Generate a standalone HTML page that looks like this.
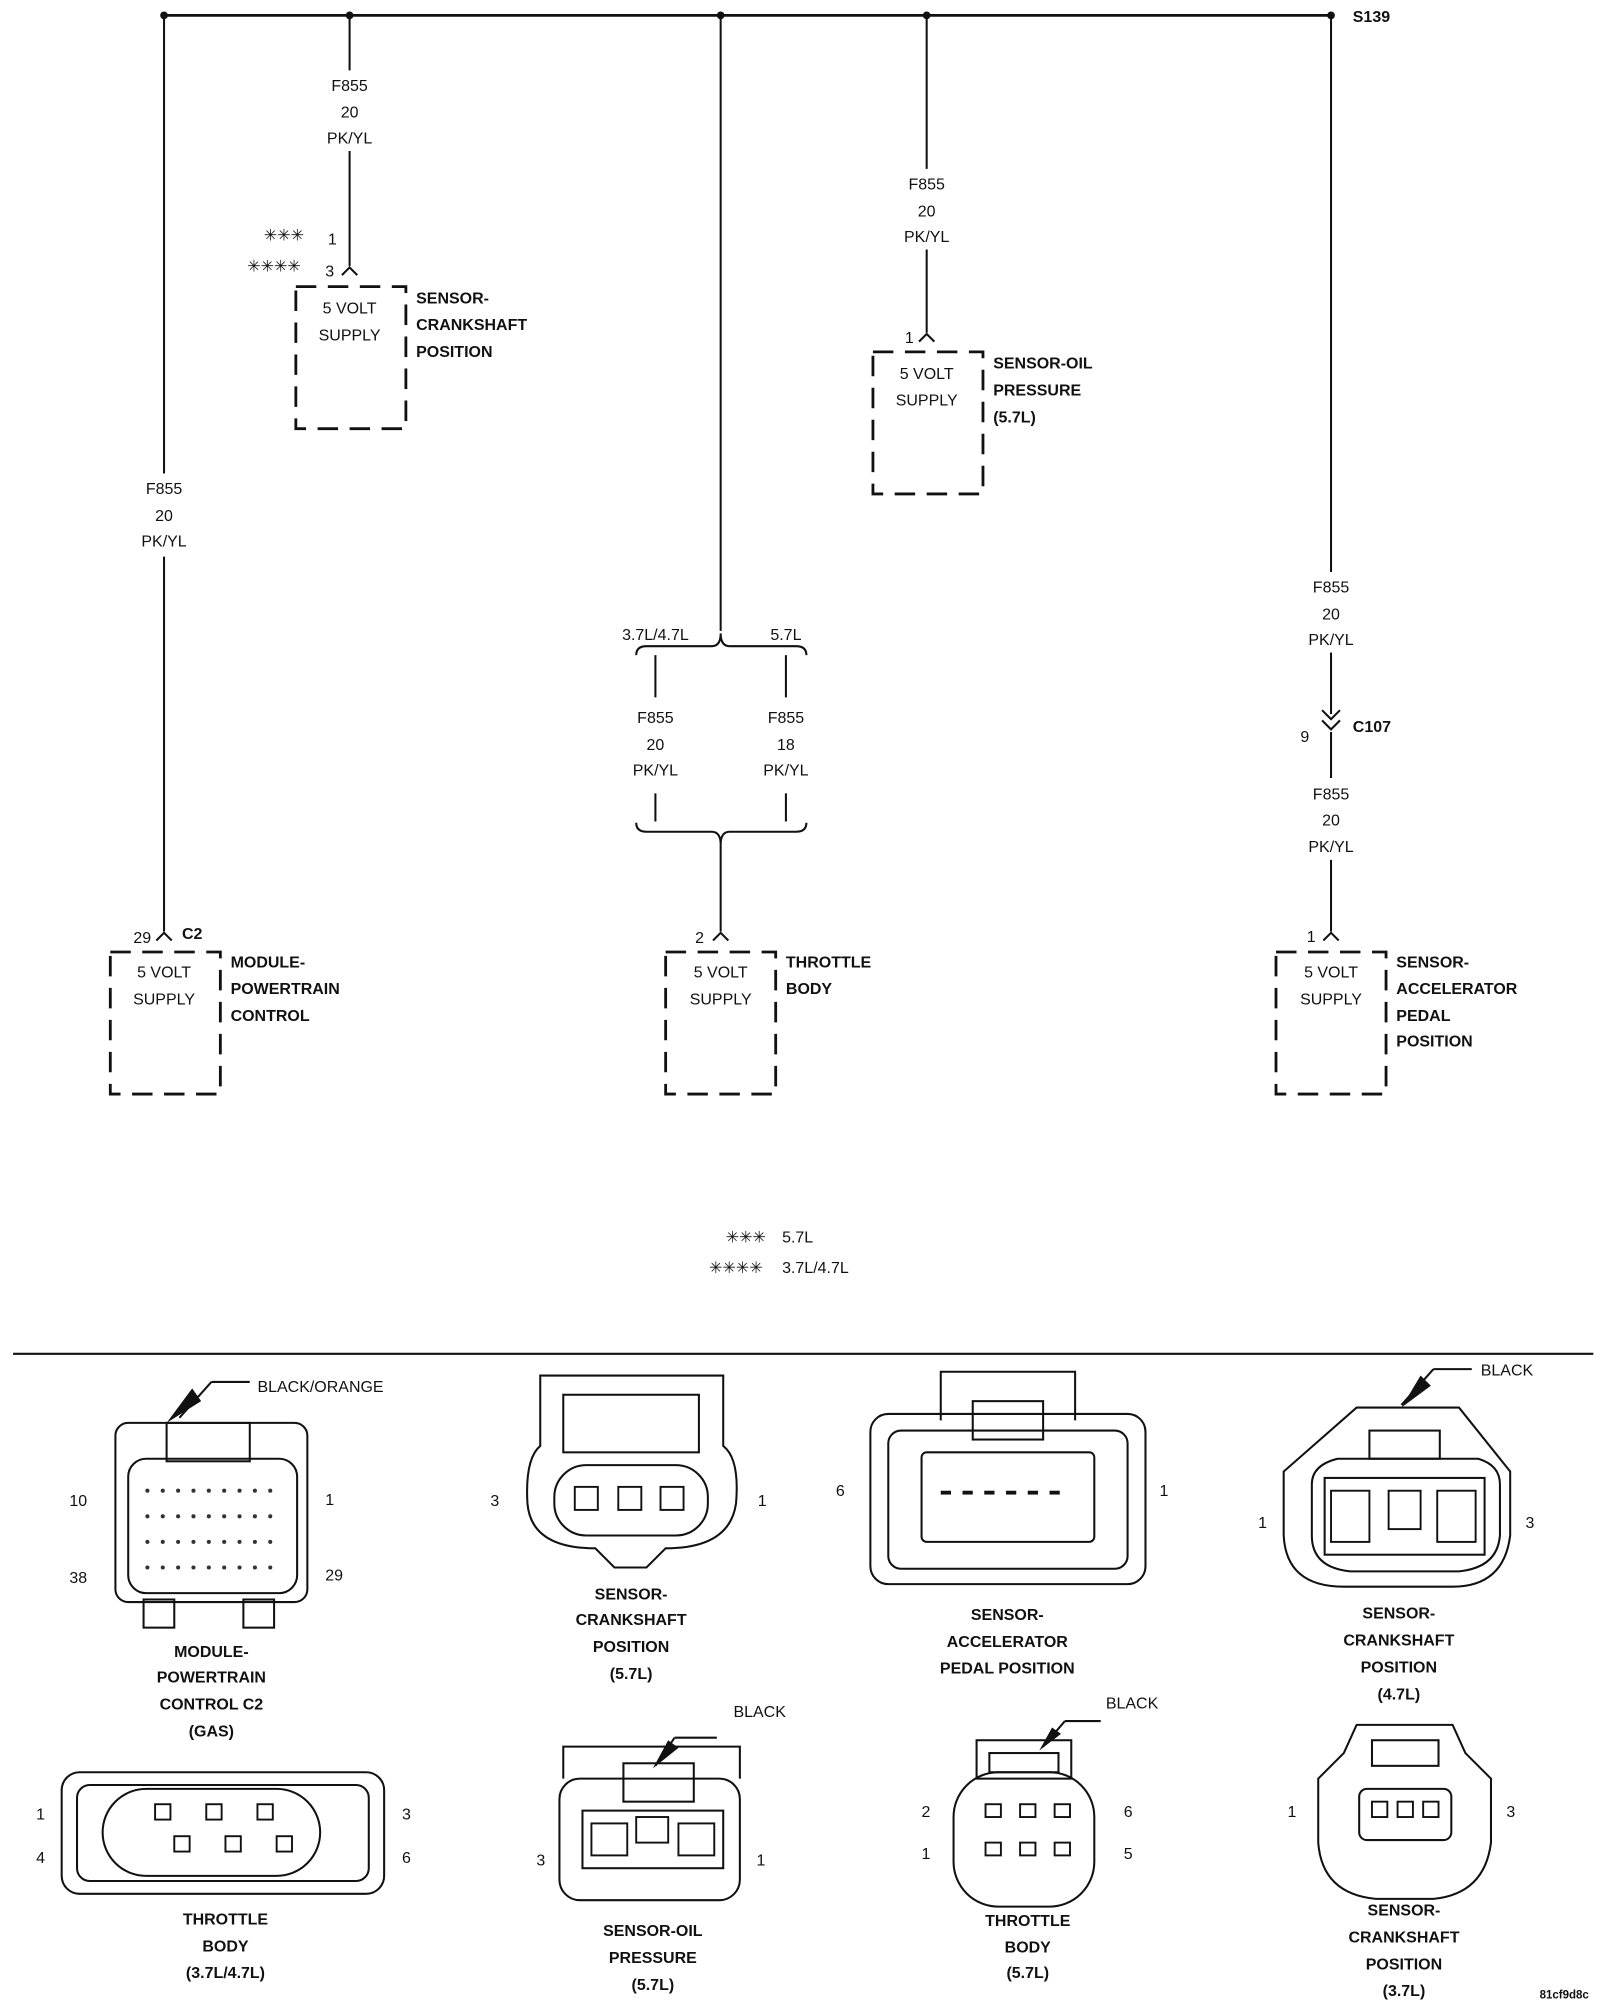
<!DOCTYPE html>
<html><head><meta charset="utf-8"><style>
html,body{margin:0;padding:0;background:#fff;}
svg{display:block;}
text{font-family:"Liberation Sans",sans-serif;font-size:12.5px;fill:#111;}
.b{font-weight:bold;}
.c{text-anchor:middle;}
</style></head><body>
<svg width="1600" height="2000" viewBox="0 0 1250 1563" xmlns="http://www.w3.org/2000/svg">
<g stroke="#111" stroke-width="1.6" fill="none">
<line x1="128" y1="12" x2="1040" y2="12" stroke-width="2.2"/>
<line x1="128" y1="12" x2="128" y2="370"/><line x1="128" y1="435" x2="128" y2="728"/>
<line x1="273" y1="12" x2="273" y2="55"/><line x1="273" y1="118" x2="273" y2="208"/>
<line x1="563" y1="12" x2="563" y2="493"/>
<line x1="724" y1="12" x2="724" y2="132"/><line x1="724" y1="195" x2="724" y2="260"/>
<line x1="1040" y1="12" x2="1040" y2="447"/><line x1="1040" y1="510" x2="1040" y2="558"/>
<line x1="1040" y1="572" x2="1040" y2="608"/><line x1="1040" y1="672" x2="1040" y2="728"/>
<path d="M122 735 L128 729 L134 735"/>
<path d="M267 215 L273 209 L279 215"/>
<path d="M718 267 L724 261 L730 267"/>
<path d="M557 735 L563 729 L569 735"/>
<path d="M1034 735 L1040 729 L1046 735"/>
<path d="M1033 555 L1040 562 L1047 555"/><path d="M1033 563 L1040 570 L1047 563"/>
<path d="M497 512 Q497 505 505 505 L556 505 Q563 505 563 495 Q563 505 570 505 L622 505 Q630 505 630 512"/>
<line x1="512" y1="512" x2="512" y2="545"/><line x1="614" y1="512" x2="614" y2="545"/>
<line x1="512" y1="620" x2="512" y2="642"/><line x1="614" y1="620" x2="614" y2="642"/>
<path d="M497 643 Q497 650 505 650 L556 650 Q563 650 563 660 Q563 650 570 650 L622 650 Q630 650 630 643"/>
<line x1="563" y1="660" x2="563" y2="728"/>
<g stroke-dasharray="16,9" stroke-width="2.2">
<rect x="86" y="744" width="86" height="111"/>
<rect x="231" y="224" width="86" height="111"/>
<rect x="682" y="275" width="86" height="111"/>
<rect x="520" y="744" width="86" height="111"/>
<rect x="997" y="744" width="86" height="111"/>
</g>
<line x1="10" y1="1058" x2="1245" y2="1058"/>
</g>
<g fill="#111">
<circle cx="128" cy="12" r="3"/><circle cx="273" cy="12" r="3"/><circle cx="563" cy="12" r="3"/><circle cx="724" cy="12" r="3"/><circle cx="1040" cy="12" r="3"/>
</g>
<text x="1057" y="17" class="b">S139</text>
<g class="c">
<text x="128" y="386">F855</text><text x="128" y="407">20</text><text x="128" y="427">PK/YL</text>
<text x="273" y="71">F855</text><text x="273" y="92">20</text><text x="273" y="112">PK/YL</text>
<text x="724" y="148">F855</text><text x="724" y="169">20</text><text x="724" y="189">PK/YL</text>
<text x="1040" y="463">F855</text><text x="1040" y="484">20</text><text x="1040" y="504">PK/YL</text>
<text x="1040" y="625">F855</text><text x="1040" y="645">20</text><text x="1040" y="666">PK/YL</text>
<text x="512" y="565">F855</text><text x="512" y="586">20</text><text x="512" y="606">PK/YL</text>
<text x="614" y="565">F855</text><text x="614" y="586">18</text><text x="614" y="606">PK/YL</text>
<text x="512" y="500">3.7L/4.7L</text><text x="614" y="500">5.7L</text>
<text x="128" y="764">5 VOLT</text><text x="128" y="785">SUPPLY</text>
<text x="273" y="245">5 VOLT</text><text x="273" y="266">SUPPLY</text>
<text x="724" y="296">5 VOLT</text><text x="724" y="317">SUPPLY</text>
<text x="563" y="764">5 VOLT</text><text x="563" y="785">SUPPLY</text>
<text x="1040" y="764">5 VOLT</text><text x="1040" y="785">SUPPLY</text>
</g>
<text x="104" y="737">29</text><text x="142" y="734" class="b">C2</text>
<text x="206" y="188">✳✳✳</text><text x="256" y="191">1</text>
<text x="193" y="212">✳✳✳✳</text><text x="254" y="216">3</text>
<text x="707" y="268">1</text><text x="543" y="737">2</text><text x="1021" y="736">1</text>
<text x="1016" y="580">9</text><text x="1057" y="572" class="b">C107</text>
<g class="b">
<text x="180" y="756">MODULE-</text><text x="180" y="777">POWERTRAIN</text><text x="180" y="798">CONTROL</text>
<text x="325" y="237">SENSOR-</text><text x="325" y="258">CRANKSHAFT</text><text x="325" y="279">POSITION</text>
<text x="776" y="288">SENSOR-OIL</text><text x="776" y="309">PRESSURE</text><text x="776" y="330">(5.7L)</text>
<text x="614" y="756">THROTTLE</text><text x="614" y="777">BODY</text>
<text x="1091" y="756">SENSOR-</text><text x="1091" y="777">ACCELERATOR</text><text x="1091" y="798">PEDAL</text><text x="1091" y="818">POSITION</text>
</g>
<text x="567" y="971">✳✳✳</text><text x="611" y="971">5.7L</text>
<text x="554" y="995">✳✳✳✳</text><text x="611" y="995">3.7L/4.7L</text>

<g stroke="#111" stroke-width="1.6" fill="none">
<rect x="90" y="1112" width="150" height="140" rx="10"/>
<rect x="100" y="1140" width="132" height="105" rx="14"/>
<rect x="130" y="1112" width="65" height="30"/>
<rect x="112" y="1250" width="24" height="22"/><rect x="190" y="1250" width="24" height="22"/>
<path d="M165 1080 L195 1080"/><path d="M165 1080 L140 1108"/>
<path d="M422 1075 L565 1075 L565 1130 Q578 1140 575 1175 Q570 1210 520 1210 L505 1225 L480 1225 L465 1210 Q415 1210 412 1175 Q410 1140 422 1130 Z"/>
<rect x="433" y="1145" width="120" height="55" rx="25"/>
<rect x="440" y="1090" width="106" height="45"/>
<rect x="680" y="1105" width="215" height="133" rx="14"/>
<rect x="694" y="1118" width="187" height="108" rx="10"/>
<path d="M735 1110 L735 1072 L840 1072 L840 1110"/>
<rect x="760" y="1095" width="55" height="30"/>
<rect x="720" y="1135" width="135" height="70" rx="4"/>
<path d="M1060 1100 L1140 1100 L1180 1150 L1180 1200 Q1175 1240 1135 1240 L1050 1240 Q1005 1240 1003 1200 L1003 1150 Z"/>
<path d="M1025 1160 Q1025 1145 1045 1140 L1155 1140 Q1172 1145 1172 1160 L1172 1200 Q1170 1225 1140 1228 L1055 1228 Q1025 1225 1025 1200 Z"/>
<rect x="1035" y="1155" width="125" height="60"/>
<rect x="1070" y="1118" width="55" height="22"/>
<path d="M1120 1070 L1150 1070"/><path d="M1120 1070 L1095 1098"/>
<rect x="48" y="1385" width="252" height="95" rx="14"/>
<rect x="60" y="1395" width="228" height="75" rx="10"/>
<rect x="80" y="1398" width="170" height="68" rx="34"/>
<rect x="437" y="1390" width="141" height="95" rx="16"/>
<path d="M440 1390 L440 1365 L578 1365 L578 1390"/>
<rect x="487" y="1378" width="55" height="30"/>
<rect x="455" y="1415" width="110" height="45"/>
<path d="M527 1358 L560 1358"/><path d="M527 1358 L512 1380"/>
<rect x="745" y="1385" width="110" height="105" rx="35"/>
<rect x="763" y="1360" width="74" height="30"/>
<rect x="773" y="1370" width="54" height="15"/>
<path d="M832 1345 L860 1345"/><path d="M832 1345 L815 1365"/>
<path d="M1060 1348 L1135 1348 L1145 1370 L1165 1390 L1165 1440 Q1160 1480 1120 1484 L1075 1484 Q1033 1480 1030 1440 L1030 1390 L1050 1370 Z"/>
<rect x="1062" y="1398" width="72" height="40" rx="6"/>
<rect x="1072" y="1360" width="52" height="20"/>
</g>
<g fill="#fff" stroke="#111" stroke-width="1.5">
<rect x="449" y="1162" width="18" height="18"/><rect x="483" y="1162" width="18" height="18"/><rect x="516" y="1162" width="18" height="18"/>
<rect x="121" y="1410" width="12" height="12"/><rect x="161" y="1410" width="12" height="12"/><rect x="201" y="1410" width="12" height="12"/>
<rect x="136" y="1435" width="12" height="12"/><rect x="176" y="1435" width="12" height="12"/><rect x="216" y="1435" width="12" height="12"/>
<rect x="770" y="1410" width="12" height="10"/><rect x="797" y="1410" width="12" height="10"/><rect x="824" y="1410" width="12" height="10"/>
<rect x="770" y="1440" width="12" height="10"/><rect x="797" y="1440" width="12" height="10"/><rect x="824" y="1440" width="12" height="10"/>
<rect x="1072" y="1408" width="12" height="12"/><rect x="1092" y="1408" width="12" height="12"/><rect x="1112" y="1408" width="12" height="12"/>
<rect x="1040" y="1165" width="30" height="40"/><rect x="1085" y="1165" width="25" height="30"/><rect x="1123" y="1165" width="30" height="40"/>
<rect x="462" y="1425" width="28" height="25"/><rect x="497" y="1420" width="25" height="20"/><rect x="530" y="1425" width="28" height="25"/>
</g>
<g fill="#111">
<polygon points="130,1112 150,1085 157,1095"/>
<polygon points="1095,1100 1110,1075 1118,1083"/>
<polygon points="510,1382 522,1360 530,1366"/>
<polygon points="812,1368 822,1350 829,1355"/>
<rect x="735" y="1165" width="8" height="3"/><rect x="752" y="1165" width="8" height="3"/><rect x="769" y="1165" width="8" height="3"/><rect x="786" y="1165" width="8" height="3"/><rect x="803" y="1165" width="8" height="3"/><rect x="820" y="1165" width="8" height="3"/>
</g>
<g fill="#333">
<circle cx="115" cy="1165" r="1.6"/><circle cx="127" cy="1165" r="1.6"/><circle cx="139" cy="1165" r="1.6"/><circle cx="151" cy="1165" r="1.6"/><circle cx="163" cy="1165" r="1.6"/><circle cx="175" cy="1165" r="1.6"/><circle cx="187" cy="1165" r="1.6"/><circle cx="199" cy="1165" r="1.6"/><circle cx="211" cy="1165" r="1.6"/>
<circle cx="115" cy="1185" r="1.6"/><circle cx="127" cy="1185" r="1.6"/><circle cx="139" cy="1185" r="1.6"/><circle cx="151" cy="1185" r="1.6"/><circle cx="163" cy="1185" r="1.6"/><circle cx="175" cy="1185" r="1.6"/><circle cx="187" cy="1185" r="1.6"/><circle cx="199" cy="1185" r="1.6"/><circle cx="211" cy="1185" r="1.6"/>
<circle cx="115" cy="1205" r="1.6"/><circle cx="127" cy="1205" r="1.6"/><circle cx="139" cy="1205" r="1.6"/><circle cx="151" cy="1205" r="1.6"/><circle cx="163" cy="1205" r="1.6"/><circle cx="175" cy="1205" r="1.6"/><circle cx="187" cy="1205" r="1.6"/><circle cx="199" cy="1205" r="1.6"/><circle cx="211" cy="1205" r="1.6"/>
<circle cx="115" cy="1225" r="1.6"/><circle cx="127" cy="1225" r="1.6"/><circle cx="139" cy="1225" r="1.6"/><circle cx="151" cy="1225" r="1.6"/><circle cx="163" cy="1225" r="1.6"/><circle cx="175" cy="1225" r="1.6"/><circle cx="187" cy="1225" r="1.6"/><circle cx="199" cy="1225" r="1.6"/><circle cx="211" cy="1225" r="1.6"/>
</g>
<text x="201" y="1088">BLACK/ORANGE</text>
<text x="54" y="1177">10</text><text x="254" y="1176">1</text><text x="54" y="1237">38</text><text x="254" y="1235">29</text>
<text x="383" y="1177">3</text><text x="592" y="1177">1</text>
<text x="653" y="1169">6</text><text x="906" y="1169">1</text>
<text x="1157" y="1075">BLACK</text><text x="983" y="1194">1</text><text x="1192" y="1194">3</text>
<text x="28" y="1422">1</text><text x="28" y="1456">4</text><text x="314" y="1422">3</text><text x="314" y="1456">6</text>
<text x="573" y="1342">BLACK</text><text x="419" y="1458">3</text><text x="591" y="1458">1</text>
<text x="864" y="1335">BLACK</text><text x="720" y="1420">2</text><text x="878" y="1420">6</text><text x="720" y="1453">1</text><text x="878" y="1453">5</text>
<text x="1006" y="1420">1</text><text x="1177" y="1420">3</text>
<g class="b c">
<text x="165" y="1295">MODULE-</text><text x="165" y="1315">POWERTRAIN</text><text x="165" y="1336">CONTROL C2</text><text x="165" y="1357">(GAS)</text>
<text x="493" y="1250">SENSOR-</text><text x="493" y="1270">CRANKSHAFT</text><text x="493" y="1291">POSITION</text><text x="493" y="1312">(5.7L)</text>
<text x="787" y="1266">SENSOR-</text><text x="787" y="1287">ACCELERATOR</text><text x="787" y="1308">PEDAL POSITION</text>
<text x="1093" y="1265">SENSOR-</text><text x="1093" y="1286">CRANKSHAFT</text><text x="1093" y="1307">POSITION</text><text x="1093" y="1328">(4.7L)</text>
<text x="176" y="1504">THROTTLE</text><text x="176" y="1525">BODY</text><text x="176" y="1546">(3.7L/4.7L)</text>
<text x="510" y="1513">SENSOR-OIL</text><text x="510" y="1534">PRESSURE</text><text x="510" y="1555">(5.7L)</text>
<text x="803" y="1505">THROTTLE</text><text x="803" y="1526">BODY</text><text x="803" y="1546">(5.7L)</text>
<text x="1097" y="1497">SENSOR-</text><text x="1097" y="1518">CRANKSHAFT</text><text x="1097" y="1539">POSITION</text><text x="1097" y="1560">(3.7L)</text>
</g>
<text x="1203" y="1562" style="font-size:9px" class="b">81cf9d8c</text>
</svg>
</body></html>
